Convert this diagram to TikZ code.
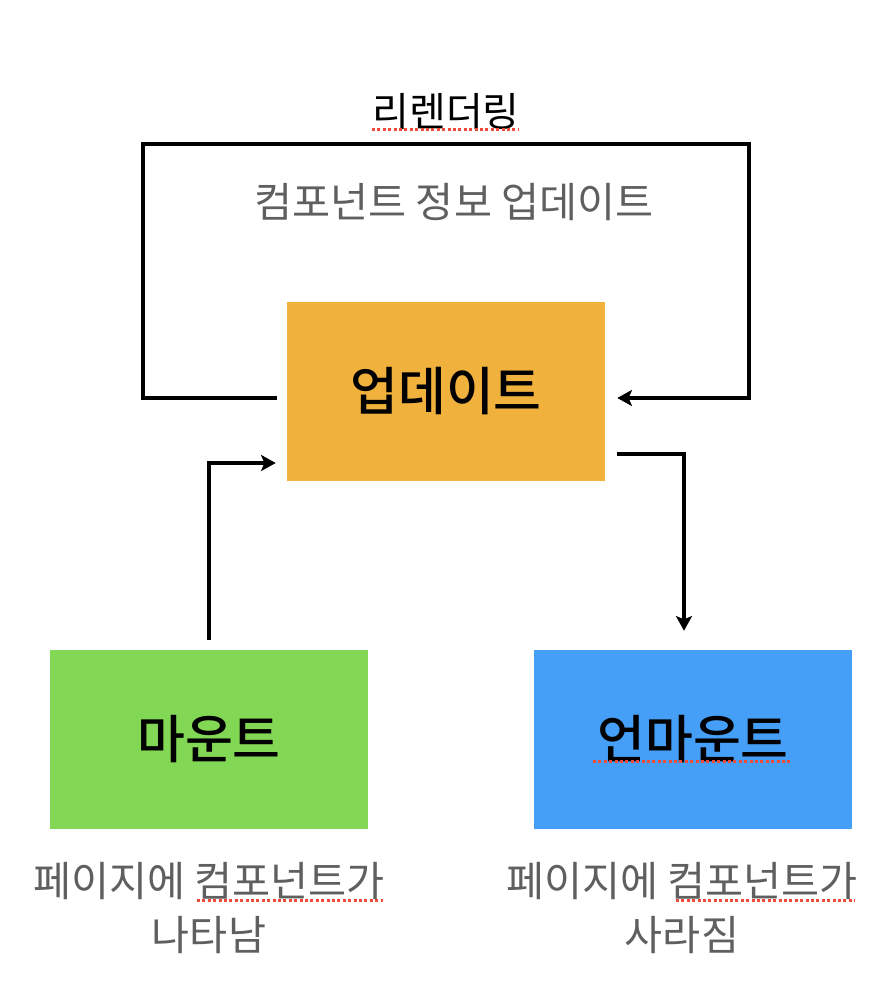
\documentclass[tikz,border=0pt]{standalone}
\usepackage{fontspec}
\setmainfont{Noto Sans CJK KR}
\newfontfamily\boxfont{Noto Sans CJK KR Medium}
\usetikzlibrary{arrows.meta,calc}
\definecolor{updatecolor}{HTML}{F1B13D}
\definecolor{mountcolor}{HTML}{82D755}
\definecolor{unmountcolor}{HTML}{469FF7}
\definecolor{notecolor}{HTML}{5F5F5F}
\definecolor{spellcolor}{HTML}{F04A3A}
\tikzset{
  lc box/.style={minimum width=238.5pt,minimum height=134.25pt,inner sep=0pt,font=\boxfont\fontsize{39}{44}\selectfont},
  lc title/.style={font=\fontsize{30}{34}\selectfont},
  lc note/.style={text=notecolor,font=\fontsize{31}{41}\selectfont,align=center},
  lc arrow/.style={line width=3.2pt,-{Stealth[length=11pt,width=12pt,inset=2.5pt]}},
  lc spell/.style={spellcolor,line width=2.25pt,dash pattern=on 2.25pt off 1.8pt}
}
\begin{document}
\begin{tikzpicture}[x=.75pt,y=-.75pt]
  \useasboundingbox (0,0) rectangle (890,1002);
  \node[lc box,fill=updatecolor] (upd) at (446,391.5) {업데이트};
  \node[lc box,fill=mountcolor] (mount) at (209,739.5) {마운트};
  \node[lc box,fill=unmountcolor] (unmount) at (693,739.5) {언마운트};
  \node[lc title] (rerender) at (446,112) {리렌더링};
  \node[lc note] (info) at (454,202) {컴포넌트 정보 업데이트};
  \node[lc note] (appear) at (209,908) {페이지에 컴포넌트가\\나타남};
  \node[lc note] (vanish) at (682,908) {페이지에 컴포넌트가\\사라짐};
  \coordinate (loop top) at (143,144);
  \draw[lc arrow] ($(upd.west)+(-10,6.5)$) -| (loop top) -| ($(upd.east)+(144,6.5)$) -- ($(upd.east)+(12,6.5)$);
  \draw[lc arrow] ($(mount.north)+(0,-10)$) |- ($(upd.west)+(-11,71.5)$);
  \draw[lc arrow] ($(upd.east)+(12,62.5)$) -| ($(unmount.north)+(-9,-19)$);
  \draw[lc spell] (372,130) -- (518,130);
  \draw[lc spell] (593,761) -- (792,761);
  \draw[lc spell] (197,900) -- (383,900);
  \draw[lc spell] (676,900) -- (855,900);
\end{tikzpicture}
\end{document}
